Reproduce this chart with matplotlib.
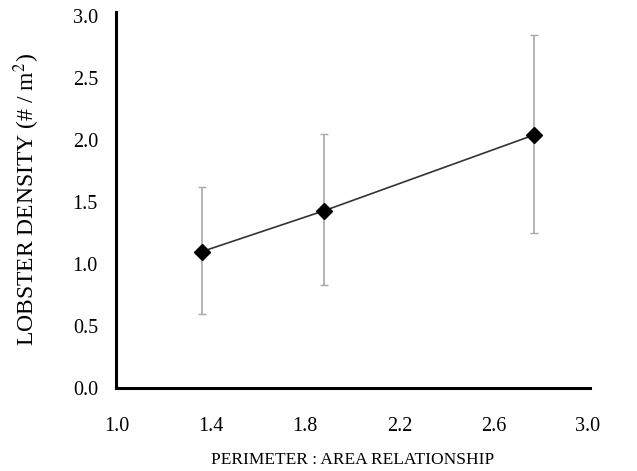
# Lobster density vs perimeter:area relationship

import matplotlib.pyplot as plt

# Data
ratio = [1.36, 1.88, 2.77]          # perimeter : area
density = [1.10, 1.43, 2.04]        # lobsters per m2
err_low = [0.60, 0.83, 1.25]        # lower end of error bar
err_high = [1.62, 2.05, 2.85]       # upper end of error bar

x_ticks = [1.0, 1.4, 1.8, 2.2, 2.6, 3.0]
y_ticks = [0.0, 0.5, 1.0, 1.5, 2.0, 2.5, 3.0]

plt.rcParams['font.family'] = ['Liberation Serif', 'DejaVu Serif']
plt.rcParams['mathtext.fontset'] = 'stix'

fig = plt.figure(figsize=(6.37, 4.71), dpi=100)
ax = fig.add_axes([0.182, 0.176, 0.744, 0.798])

yerr = [[d - lo for d, lo in zip(density, err_low)],
        [hi - d for d, hi in zip(density, err_high)]]

# error bars (gray) then the line and diamonds on top
ax.errorbar(ratio, density, yerr=yerr, fmt='none', ecolor='#a8a8a8',
            elinewidth=1.2, capsize=3, capthick=1.0, zorder=2)
ax.plot(ratio, density, color='#333333', lw=1.2, zorder=3)
ax.plot(ratio, density, 'D', color='black', ms=8, zorder=4)

ax.set_xlim(0.996, 3.008)
ax.set_ylim(0.0, 3.03)
ax.set_xticks(x_ticks)
ax.set_yticks(y_ticks)
ax.set_xticklabels([f"{v:.1f}" for v in x_ticks])
ax.set_yticklabels([f"{v:.1f}" for v in y_ticks])
ax.tick_params(axis='both', length=0, labelsize=14.5)
ax.tick_params(axis='x', pad=21)
ax.tick_params(axis='y', pad=13)

for side in ['top', 'right']:
    ax.spines[side].set_visible(False)
for side in ['left', 'bottom']:
    ax.spines[side].set_linewidth(2.2)
    ax.spines[side].set_color('black')

ax.set_xlabel("PERIMETER : AREA RELATIONSHIP", fontsize=12.5, labelpad=11)
# y label centred on the axis height
fig.text(27 / 637, 1 - 200 / 471, "LOBSTER DENSITY (# / m$^{2}$)", fontsize=17,
         rotation=90, ha='center', va='center')

fig.savefig("out.png", dpi=100)
